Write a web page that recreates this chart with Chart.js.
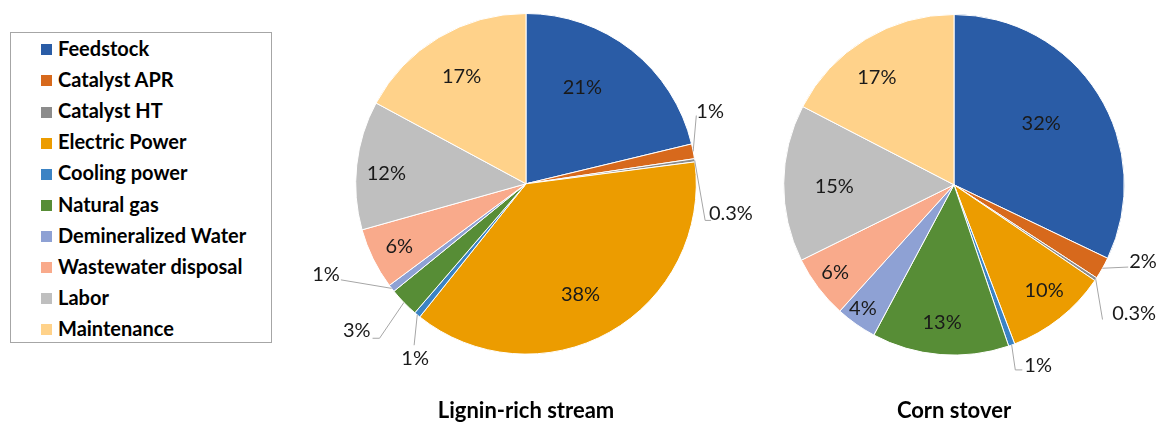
<!DOCTYPE html>
<html>
<head>
<meta charset="utf-8">
<script src="https://cdn.jsdelivr.net/npm/chart.js@4.4.0/dist/chart.umd.min.js"></script>
<style>
body{margin:0;background:#fff;width:1161px;height:424px;overflow:hidden;position:relative;font-family:Lato,sans-serif;}
#leyenda{position:absolute;left:10px;top:32px;width:260px;height:309px;border:1px solid #a6a6a6;}
.item{position:absolute;left:30px;height:24px;line-height:24px;font-size:20px;font-weight:bold;color:#000;white-space:nowrap;}
.item span{display:inline-block;width:11px;height:11px;margin-right:6px;vertical-align:middle;position:relative;top:-1px;}
#cLignina{position:absolute;left:300px;top:0;}
#cMaiz{position:absolute;left:743px;top:0;}
</style>
</head>
<body>
<div id="leyenda"></div>
<canvas id="cLignina" width="476" height="424"></canvas>
<canvas id="cMaiz" width="418" height="424"></canvas>
<script>
// categorias y colores
const categorias = ['Feedstock', 'Catalyst APR', 'Catalyst HT', 'Electric Power', 'Cooling power',
    'Natural gas', 'Demineralized Water', 'Wastewater disposal', 'Labor', 'Maintenance'];
const colores = ['#2a5ca6', '#d7691c', '#8c8c8c', '#ec9c00', '#3b83c4',
    '#578d36', '#8ea1d4', '#f9aa8b', '#bfbfbf', '#ffd28a'];

// % del costo
const valoresLignina = [21.2, 1.4, 0.3, 37.7, 0.6, 2.8, 0.7, 5.8, 12.2, 17.1];
const valoresMaiz = [32.1, 2.1, 0.3, 9.7, 0.6, 13.0, 3.9, 6.0, 14.9, 17.4];

const tituloLignina = 'Lignin-rich stream';
const tituloMaiz = 'Corn stover';

// posicion de etiquetas (en radios, relativo al centro) y lineas guia
const etqLignina = [[0.331,-0.564],[1.081,-0.424],[1.203,0.174],[0.320,0.651],[-0.651,1.029],
    [-0.994,0.860],[-1.174,0.535],[-0.744,0.366],[-0.820,-0.058],[-0.378,-0.628]];
const guiaLignina = [null, [[1.0,-0.401]], [[1.052,0.215],[1.087,0.215]], null, [[-0.657,0.948]],
    [[-0.860,0.907],[-0.901,0.907]], [[-1.087,0.564]], null, null, null];
const etqMaiz = [[0.512,-0.360],[1.110,0.448],[1.058,0.756],[0.529,0.622],[0.494,1.064],
    [-0.070,0.808],[-0.535,0.727],[-0.698,0.517],[-0.703,0.012],[-0.453,-0.628]];
const guiaMaiz = [null, [[1.023,0.483]], [[0.872,0.791]], null, [[0.360,1.087],[0.401,1.087]],
    null, null, null, null, null];

function fntFormato(v){
    if(v < 0.5){
        return v.toFixed(1) + '%';
    }
    return Math.round(v) + '%';
}

// leyenda
let leyenda = document.getElementById('leyenda');
categorias.forEach(function(cat, i){
    let div = document.createElement('div');
    div.className = 'item';
    div.style.top = (15 + i * 31.1 - 12) + 'px';
    div.innerHTML = '<span style="background:' + colores[i] + '"></span>' + cat;
    leyenda.appendChild(div);
});

const pluginEtiquetas = {
    id: 'etiquetas',
    afterDatasetsDraw(chart, args, opts) {
        let ctx = chart.ctx;
        let meta = chart.getDatasetMeta(0);
        let datos = chart.data.datasets[0].data;
        let a0 = meta.data[0];
        let cx = a0.x, cy = a0.y, r = a0.outerRadius;
        ctx.save();
        meta.data.forEach(function(arc, i){
            let g = opts.guias[i];
            if (g) {
                let mid = (arc.startAngle + arc.endAngle) / 2;
                ctx.beginPath();
                ctx.strokeStyle = '#a6a6a6';
                ctx.lineWidth = 1;
                ctx.moveTo(cx + r * Math.cos(mid), cy + r * Math.sin(mid));
                g.forEach(function(p){
                    ctx.lineTo(cx + p[0] * r, cy + p[1] * r);
                });
                ctx.stroke();
            }
            let pos = opts.pos[i];
            ctx.fillStyle = '#1a1a1a';
            ctx.font = '20px Lato';
            ctx.textAlign = 'center';
            ctx.textBaseline = 'middle';
            ctx.fillText(fntFormato(datos[i]), cx + pos[0] * r, cy + pos[1] * r);
        });
        ctx.restore();
    }
};

function fntGraficar(id, valores, titulo, pos, guias, padding, padTitulo){
    let ctx = document.getElementById(id).getContext('2d');
    return new Chart(ctx, {
        type: 'pie',
        data: {
            labels: categorias,
            datasets: [{
                data: valores,
                backgroundColor: colores,
                borderColor: '#ffffff',
                borderWidth: 1
            }]
        },
        options: {
            responsive: false,
            animation: false,
            layout: { padding: padding },
            plugins: {
                legend: { display: false },
                tooltip: { enabled: false },
                title: {
                    display: true,
                    position: 'bottom',
                    text: titulo,
                    color: '#000',
                    font: { family: 'Lato', size: 22, weight: 'bold' },
                    padding: { top: padTitulo, bottom: 0 }
                },
                etiquetas: { pos: pos, guias: guias }
            }
        },
        plugins: [pluginEtiquetas]
    });
}

fntGraficar('cLignina', valoresLignina, tituloLignina, etqLignina, guiaLignina,
    { left: 54, right: 78, top: 13, bottom: 0 }, 43);
fntGraficar('cMaiz', valoresMaiz, tituloMaiz, etqMaiz, guiaMaiz,
    { left: 39, right: 35, top: 14, bottom: 0 }, 42);
</script>
</body>
</html>
